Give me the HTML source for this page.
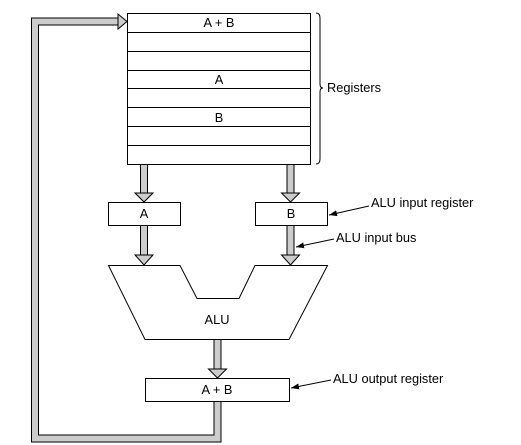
<!DOCTYPE html>
<html><head><style>body{margin:0;background:#fff}svg{display:block}text{font-family:"Liberation Sans",sans-serif;font-size:12.8px;fill:#000}</style></head><body>
<svg width="521" height="445" viewBox="0 0 521 445" xmlns="http://www.w3.org/2000/svg">
<defs>
<marker id="ah" markerWidth="8" markerHeight="6" refX="8" refY="3" orient="auto" markerUnits="userSpaceOnUse"><path d="M0,0 L8,3 L0,6 z" fill="#000"/></marker>
</defs>
<path d="M217.5,401 V438.5 H35 V21.5 H119" fill="none" stroke="#000" stroke-width="8"/>
<path d="M217.5,401 V438.5 H35 V21.5 H120" fill="none" stroke="#ccc" stroke-width="6"/>
<polygon points="118,14 127,21.5 118,29" fill="#ccc" stroke="#000" stroke-width="1"/>
<rect x="127.5" y="13.5" width="183" height="151" fill="#fff" stroke="#000"/>
<g stroke="#000" stroke-width="1">
<line x1="127" y1="32.5" x2="311" y2="32.5"/><line x1="127" y1="51.5" x2="311" y2="51.5"/>
<line x1="127" y1="70.5" x2="311" y2="70.5"/><line x1="127" y1="88.5" x2="311" y2="88.5"/>
<line x1="127" y1="107.5" x2="311" y2="107.5"/><line x1="127" y1="126.5" x2="311" y2="126.5"/>
<line x1="127" y1="145.5" x2="311" y2="145.5"/>
</g>
<text x="219" y="27" text-anchor="middle">A + B</text>
<text x="219" y="84" text-anchor="middle">A</text>
<text x="219" y="122" text-anchor="middle">B</text>
<path d="M316,13 Q320,13 320,18 V84 Q320,88 323,88 Q320,88 320,92 V159 Q320,164 316,164" fill="none" stroke="#000" stroke-width="1"/>
<text x="327" y="92">Registers</text>
<g>
<rect x="140.5" y="164.5" width="7" height="29" fill="#ccc" stroke="#000"/>
<polygon points="135,193 153,193 144,202" fill="#ccc" stroke="#000"/>
<rect x="287" y="164.5" width="7" height="29" fill="#ccc" stroke="#000"/>
<polygon points="281.5,193 299.5,193 290.5,202" fill="#ccc" stroke="#000"/>
<rect x="140.5" y="225.5" width="7" height="30" fill="#ccc" stroke="#000"/>
<polygon points="135,255 153,255 144,265" fill="#ccc" stroke="#000"/>
<rect x="287" y="225.5" width="7" height="30" fill="#ccc" stroke="#000"/>
<polygon points="281.5,255 299.5,255 290.5,265" fill="#ccc" stroke="#000"/>
<rect x="214" y="339.5" width="7" height="30" fill="#ccc" stroke="#000"/>
<polygon points="208.5,369 226.5,369 217.5,378" fill="#ccc" stroke="#000"/>
</g>
<rect x="108.5" y="202.5" width="72" height="23" fill="#fff" stroke="#000"/>
<text x="144" y="218" text-anchor="middle">A</text>
<rect x="255.5" y="202.5" width="72" height="23" fill="#fff" stroke="#000"/>
<text x="291" y="218" text-anchor="middle">B</text>
<polygon points="108.5,265.5 180,265.5 197,298.5 239,298.5 255,265.5 327.5,265.5 289,339.5 145,339.5" fill="#fff" stroke="#000"/>
<text x="217" y="324" text-anchor="middle">ALU</text>
<rect x="145.5" y="378.5" width="144" height="23" fill="#fff" stroke="#000"/>
<text x="217" y="394" text-anchor="middle">A + B</text>
<line x1="369" y1="206" x2="329" y2="215" stroke="#000" marker-end="url(#ah)"/>
<text x="371" y="207">ALU input register</text>
<line x1="334" y1="239" x2="296" y2="247" stroke="#000" marker-end="url(#ah)"/>
<text x="336" y="242">ALU input bus</text>
<line x1="331" y1="380" x2="291" y2="388" stroke="#000" marker-end="url(#ah)"/>
<text x="333" y="383">ALU output register</text>
</svg>
</body></html>
